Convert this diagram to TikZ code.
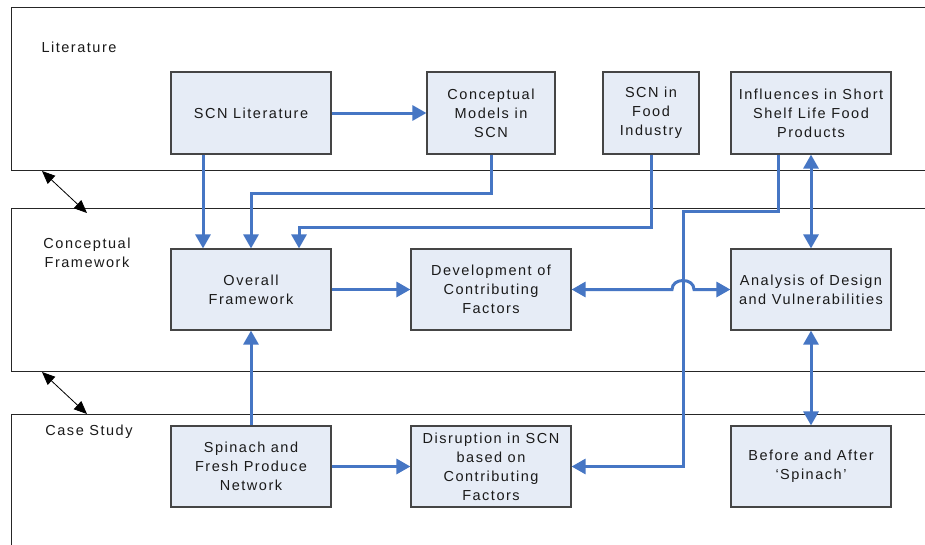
\documentclass[tikz,border=0pt]{standalone}
\usepackage{fontspec}
\setmainfont{Liberation Sans}[LetterSpace=10.5]
\usetikzlibrary{arrows.meta}
\definecolor{lineblue}{HTML}{4676C4}
\definecolor{boxfill}{HTML}{E6ECF6}
\definecolor{boxdraw}{HTML}{454545}
\definecolor{txt}{HTML}{1A1A1A}
\tikzset{
  box/.style={draw=boxdraw, line width=1.2pt, fill=boxfill, minimum height=82pt,
    inner sep=0pt, align=center, font=\fontsize{14.5}{19}\selectfont, text=txt},
  panel/.style={draw=black!85, line width=0.9pt},
  plabel/.style={align=center, font=\fontsize{14.5}{19}\selectfont, text=txt, inner sep=0pt},
  link/.style={draw=lineblue, line width=3pt, -{Triangle[length=14pt,width=15pt]}},
  dlink/.style={draw=lineblue, line width=3pt, {Triangle[length=14pt,width=15pt]}-{Triangle[length=14pt,width=15pt]}},
  blink/.style={draw=black, line width=0.8pt, {Triangle[length=13pt,width=11pt]}-{Triangle[length=13pt,width=11pt]}}
}
\begin{document}
\begin{tikzpicture}[x=1pt,y=-1pt]
\useasboundingbox (0,0) rectangle (925,544);
\clip (0,0) rectangle (925,544);
\fill[white] (0,0) rectangle (925,544);
% panels
\draw[panel] (940,7) -- (11,7) -- (11,170) -- (940,170);
\draw[panel] (940,208) -- (11,208) -- (11,371) -- (940,371);
\draw[panel] (940,414) -- (11,414) -- (11,560);
% panel labels
\node[plabel] (tlit) at (79,47) {Literature};
\node[plabel] (tcon) at (87,252.5) {Conceptual\\Framework};
\node[plabel] (tcase) at (89,432) {Case Study};
% panel arrows
\coordinate (p1a) at (42,171);
\coordinate (p1b) at (87,213);
\coordinate (p2a) at (42,372);
\coordinate (p2b) at (87,414);
\draw[blink] (p1a) -- (p1b);
\draw[blink] (p2a) -- (p2b);
% boxes
\node[box, minimum width=160pt] (lit) at (251,113) {SCN Literature};
\node[box, minimum width=128pt] (cm) at (491,113) {Conceptual\\Models in\\SCN};
\node[box, minimum width=96pt] (food) at (651,113) {SCN in\\Food\\Industry};
\node[box, minimum width=160pt] (infl) at (811,113) {Influences in Short\\Shelf Life Food\\Products};
\node[box, minimum width=160pt, minimum height=81pt] (over) at (251,289.5) {Overall\\Framework};
\node[box, minimum width=160pt, minimum height=81pt] (dev) at (491,289.5) {Development of\\Contributing\\Factors};
\node[box, minimum width=160pt, minimum height=81pt] (ana) at (811,289.5) {Analysis of Design\\and Vulnerabilities};
\node[box, minimum width=160pt, minimum height=81pt] (spin) at (251,466.5) {Spinach and\\Fresh Produce\\Network};
\node[box, minimum width=160pt, minimum height=81pt] (dis) at (491,466.5) {Disruption in SCN\\based on\\Contributing\\Factors};
\node[box, minimum width=160pt, minimum height=81pt] (bef) at (811,466.5) {Before and After\\`Spinach'};
\coordinate (hop) at (683,289.5);
% connectors
\draw[link] (lit.east) -- (cm.west);
\draw[link] ([xshift=-48pt]lit.south) -- ([xshift=-48pt]over.north);
\draw[link] (cm.south) -- ++(0,39) -| (over.north);
\draw[link] (food.south) -- ++(0,73) -| ([xshift=48pt]over.north);
\draw[link] ([xshift=-33pt]infl.south) -- ++(0,57) -- ++(-95,0) |- (dis.east);
\draw[dlink] (infl.south) -- (ana.north);
\draw[link] (over.east) -- (dev.west);
\draw[dlink] (dev.east) -- ([xshift=-11pt]hop) .. controls +(0,-12) and +(0,-12) .. ([xshift=11pt]hop) -- (ana.west);
\draw[dlink] (ana.south) -- (bef.north);
\draw[link] (spin.north) -- (over.south);
\draw[link] (spin.east) -- (dis.west);
\end{tikzpicture}
\end{document}
